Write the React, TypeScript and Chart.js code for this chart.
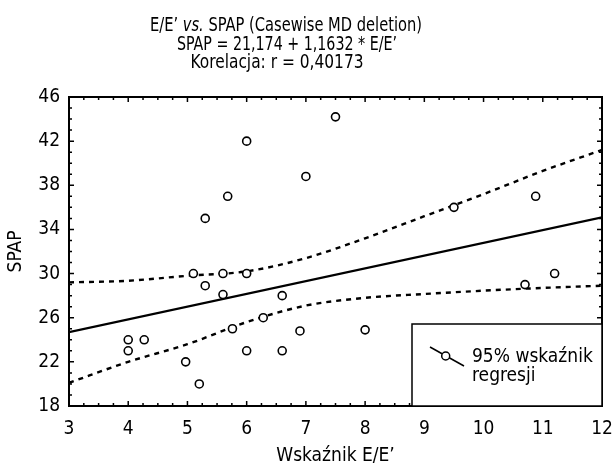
import { useEffect, useRef } from "react";
import { Chart, registerables } from "chart.js";
Chart.register(...registerables);

// ---- data ----
const eeRatio = [4, 4, 4.27, 4.97, 5.1, 5.2, 5.3, 5.3, 5.6, 5.6, 5.68, 5.76, 6, 6, 6, 6.28, 6.6, 6.6, 6.9, 7, 7.5, 8, 9.5, 10.7, 10.88, 11.2];
const spap = [24, 23, 24, 22, 30, 20, 35, 28.9, 30, 28.1, 37, 25, 42, 30, 23, 26, 28, 23, 24.8, 38.8, 44.2, 24.9, 36, 29, 37, 30];
const fitX = [3, 12];
const fitY = [24.7, 35.1];
const bandX = [3, 4, 5, 6, 7, 8, 9, 10, 11, 12];
const upperBand = [29.2, 29.35, 29.8, 30.2, 31.4, 33.2, 35.2, 37.2, 39.3, 41.2];
const lowerBand = [20.1, 22.0, 23.6, 25.6, 27.1, 27.8, 28.15, 28.45, 28.7, 28.9];
const xMin = 3, xMax = 12, xStep = 1, xMinorStep = 0.25;
const yMin = 18, yMax = 46, yStep = 4, yMinorStep = 1;
const titleLine1: [string, boolean][] = [["E/E\u2019 ", false], ["vs.", true], [" SPAP (Casewise MD deletion)", false]];
const titleLine2 = "SPAP = 21,174 + 1,1632 * E/E\u2019";
const titleLine3 = "Korelacja: r = 0,40173";
const xTitle = "Wska\u017anik E/E\u2019";
const yTitle = "SPAP";
const legendLines = ["95% wska\u017anik", "regresji"];

const FONT = "'Liberation Sans Narrow', 'Arial Narrow', 'DejaVu Sans Condensed', sans-serif";

// draws a run of text segments centered on cx, horizontally fitted to a target width
function drawFitted(ctx: CanvasRenderingContext2D, segs: [string, boolean][], cx: number, y: number, target: number) {
  const fontFor = (it: boolean) => `${it ? "italic " : ""}19px ${FONT}`;
  let total = 0;
  for (const [t, it] of segs) { ctx.font = fontFor(it); total += ctx.measureText(t).width; }
  const sx = Math.min(1, target / total);
  ctx.save();
  ctx.translate(cx - (total * sx) / 2, y);
  ctx.scale(sx, 1);
  let x = 0;
  for (const [t, it] of segs) { ctx.font = fontFor(it); ctx.fillText(t, x, 0); x += ctx.measureText(t).width; }
  ctx.restore();
}

const decorPlugin = {
  id: "decor",
  afterDatasetsDraw(chart: any) {
    const ctx = chart.ctx as CanvasRenderingContext2D;
    const { left, right, top, bottom } = chart.chartArea;
    const xs = chart.scales.x;
    const ys = chart.scales.y;
    ctx.save();
    ctx.strokeStyle = "#000";
    ctx.lineWidth = 1.5;
    ctx.beginPath();
    for (let v = xMin; v <= xMax + 1e-9; v += xMinorStep) {
      const x = xs.getPixelForValue(v);
      const major = Math.abs(v - Math.round(v)) < 1e-6;
      const len = major ? 5 : 3;
      ctx.moveTo(x, bottom);
      ctx.lineTo(x, bottom - len);
      ctx.moveTo(x, top);
      ctx.lineTo(x, top + len);
    }
    for (let v = yMin; v <= yMax + 1e-9; v += yMinorStep) {
      const y = ys.getPixelForValue(v);
      const major = Math.abs((v - yMin) % yStep) < 1e-6;
      const len = major ? 5 : 3;
      ctx.moveTo(left, y);
      ctx.lineTo(left + len, y);
      ctx.moveTo(right, y);
      ctx.lineTo(right - len, y);
    }
    ctx.stroke();
    ctx.lineWidth = 2;
    ctx.strokeRect(left, top, right - left, bottom - top);

    // legend box
    const bx = 412, by = 324;
    ctx.fillStyle = "#fff";
    ctx.fillRect(bx, by, right - bx, bottom - by);
    ctx.lineWidth = 1.5;
    ctx.strokeRect(bx, by, right - bx, bottom - by);
    ctx.beginPath();
    ctx.moveTo(430, 347);
    ctx.lineTo(464, 366);
    ctx.stroke();
    ctx.beginPath();
    ctx.arc(445.7, 356, 4, 0, Math.PI * 2);
    ctx.fillStyle = "#fff";
    ctx.fill();
    ctx.stroke();
    ctx.fillStyle = "#000";
    ctx.font = `19px ${FONT}`;
    ctx.textAlign = "left";
    ctx.textBaseline = "alphabetic";
    ctx.fillText(legendLines[0], 472, 362);
    ctx.fillText(legendLines[1], 472, 381);
    ctx.restore();
  },
  afterDraw(chart: any) {
    const ctx = chart.ctx as CanvasRenderingContext2D;
    ctx.save();
    ctx.fillStyle = "#000";
    ctx.textBaseline = "alphabetic";
    ctx.textAlign = "left";
    drawFitted(ctx, titleLine1, 286, 31, 272);
    drawFitted(ctx, [[titleLine2, false]], 287, 50, 220);
    drawFitted(ctx, [[titleLine3, false]], 277, 68, 173);
    ctx.restore();
  },
};

export default function App() {
  const ref = useRef<HTMLCanvasElement>(null);
  useEffect(() => {
    const pts = eeRatio.map((x, i) => ({ x, y: spap[i] }));
    const fit = fitX.map((x, i) => ({ x, y: fitY[i] }));
    const up = bandX.map((x, i) => ({ x, y: upperBand[i] }));
    const lo = bandX.map((x, i) => ({ x, y: lowerBand[i] }));
    const chart = new Chart(ref.current!, {
      type: "scatter",
      data: {
        datasets: [
          { data: pts, pointRadius: 4, pointBorderWidth: 1.6, borderColor: "#000", backgroundColor: "#fff", pointStyle: "circle" },
          { data: fit, showLine: true, pointRadius: 0, borderColor: "#000", borderWidth: 2.2 },
          { data: up, showLine: true, pointRadius: 0, borderColor: "#000", borderWidth: 2.4, borderDash: [5, 5], cubicInterpolationMode: "monotone" },
          { data: lo, showLine: true, pointRadius: 0, borderColor: "#000", borderWidth: 2.4, borderDash: [5, 5], cubicInterpolationMode: "monotone" },
        ] as any,
      },
      options: {
        animation: false,
        responsive: false,
        layout: { padding: { top: 97, right: 0, left: 0, bottom: 0 } },
        plugins: { legend: { display: false }, tooltip: { enabled: false }, title: { display: false } },
        scales: {
          x: {
            type: "linear", min: xMin, max: xMax,
            grid: { display: false, drawTicks: false },
            border: { display: false },
            ticks: { stepSize: xStep, color: "#000", font: { family: FONT, size: 19 }, padding: 12, maxRotation: 0 },
            title: { display: true, text: xTitle, color: "#000", font: { family: FONT, size: 19, lineHeight: 1 }, padding: { top: 0, bottom: 0 } },
            afterFit: (s: any) => { s.height = 60; s.paddingRight = 11; s.paddingLeft = 0; },
          },
          y: {
            type: "linear", min: yMin, max: yMax,
            grid: { display: false, drawTicks: false },
            border: { display: false },
            ticks: { stepSize: yStep, color: "#000", font: { family: FONT, size: 19 }, padding: 9 },
            title: { display: true, text: yTitle, color: "#000", font: { family: FONT, size: 19, lineHeight: 1 }, padding: { top: 7, bottom: 0 } },
            afterFit: (s: any) => { s.width = 69; },
          },
        },
      } as any,
      plugins: [decorPlugin],
    });
    return () => chart.destroy();
  }, []);
  return (
    <div style={{ position: "absolute", left: 0, top: 0, width: 613, height: 466, background: "#fff" }}>
      <canvas ref={ref} width={613} height={466} style={{ width: 613, height: 466 }} />
    </div>
  );
}
